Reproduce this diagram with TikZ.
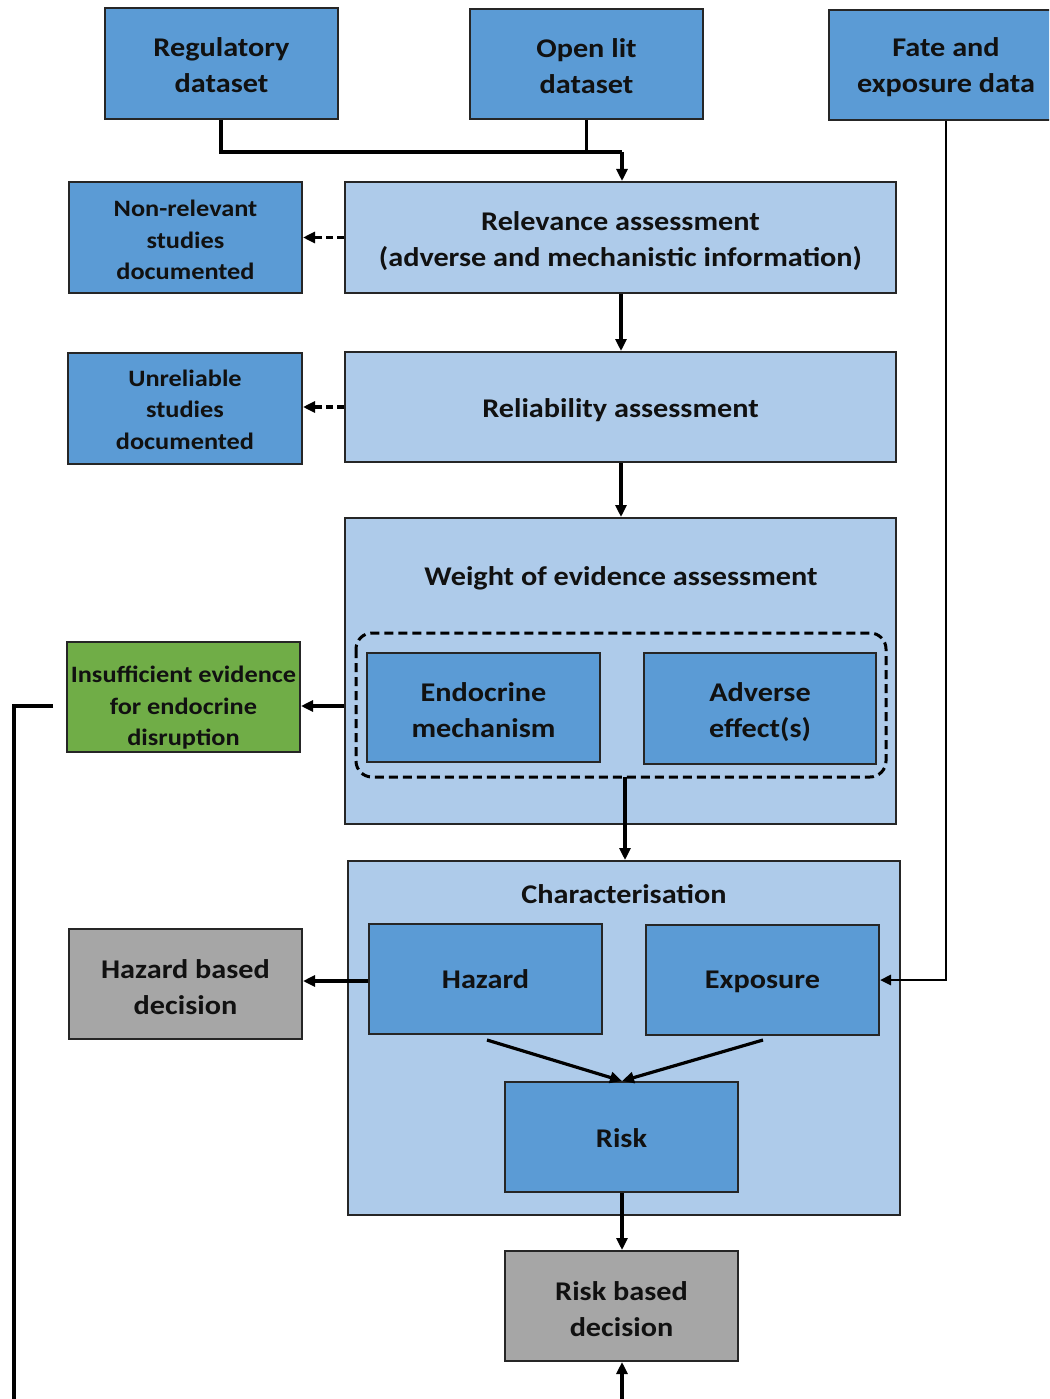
\documentclass[tikz,border=0pt]{standalone}
\usepackage{fontspec}
\setmainfont{Carlito}[FakeStretch=1.12]
\usetikzlibrary{arrows.meta}
\definecolor{dblue}{HTML}{5B9BD5}
\definecolor{lblue}{HTML}{AECBEA}
\definecolor{dgreen}{HTML}{70AD47}
\definecolor{dgray}{HTML}{A6A6A6}
\definecolor{txt}{HTML}{111111}
\tikzset{
  x=1pt, y=-1pt,
  bigtext/.style={font=\bfseries\fontsize{27}{36}\selectfont, text=txt, align=center, inner sep=0pt},
  smalltext/.style={font=\bfseries\fontsize{23.5}{31.5}\selectfont, text=txt, align=center, inner sep=0pt},
  box/.style={draw=black!85, line width=2pt, inner sep=0pt},
  dbox/.style={box, fill=dblue},
  lbox/.style={box, fill=lblue},
  gbox/.style={box, fill=dgreen},
  ybox/.style={box, fill=dgray},
  conn/.style={line width=3.2pt, -{Triangle[length=12pt,width=11pt]}},
  dconn/.style={conn, dash pattern=on 7pt off 4pt},
}
% #1 box style, #2 text style, #3 name, #4-#7 x1 y1 x2 y2, #8 text shift down, #9 text
\newcommand{\bx}[9]{%
  \node[#1, minimum width={#6-#4}, minimum height={#7-#5}] (#3) at ({(#4+#6)/2},{(#5+#7)/2}) {};
  \node[#2] (#3-t) at ([yshift=-#8pt]#3.center) {#9};}
\begin{document}
\begin{tikzpicture}
\clip (0,0) rectangle (1049,1399);
\fill[white] (0,0) rectangle (1049,1399);
% outer containers
\node[lbox, minimum width=551, minimum height=306] (woe) at (620.5,671) {};
\node[lbox, minimum width=552, minimum height=354] (char) at (624,1038) {};
\node[bigtext] (woet) at (621,578) {Weight of evidence assessment};
\node[bigtext] (chart) at (624,894) {Characterisation};
\draw[line width=3pt, dash pattern=on 9pt off 5pt, rounded corners=16pt] (356,633) rectangle (886,777);
\coordinate (dashb) at (625,777);
% boxes
\bx{dbox}{bigtext}{reg}{105}{8}{338}{119}{2}{Regulatory\\dataset}
\bx{dbox}{bigtext}{open}{470}{9}{703}{119}{2}{Open lit\\dataset}
\bx{dbox}{bigtext}{fate}{829}{10}{1063}{120}{2.5}{Fate and\\exposure data}
\bx{dbox}{smalltext}{nonrel}{69}{182}{302}{293}{2.5}{Non-relevant\\studies\\documented}
\bx{lbox}{bigtext}{relev}{345}{182}{896}{293}{3.5}{Relevance assessment\\(adverse and mechanistic information)}
\bx{dbox}{smalltext}{unrel}{68}{353}{302}{464}{1}{Unreliable\\studies\\documented}
\bx{lbox}{bigtext}{reliab}{345}{352}{896}{462}{3}{Reliability assessment}
\bx{dbox}{bigtext}{endo}{367}{653}{600}{762}{3}{Endocrine\\mechanism}
\bx{dbox}{bigtext}{adv}{644}{653}{876}{764}{4}{Adverse\\effect(s)}
\bx{gbox}{smalltext}{insuf}{67}{642}{300}{752}{11}{Insufficient evidence\\for endocrine\\disruption}
\bx{dbox}{bigtext}{haz}{369}{924}{602}{1034}{0.5}{Hazard}
\bx{dbox}{bigtext}{expo}{646}{925}{879}{1035}{2}{Exposure}
\bx{dbox}{bigtext}{risk}{505}{1082}{738}{1192}{1}{Risk}
\bx{ybox}{bigtext}{hazdec}{69}{929}{302}{1039}{3}{Hazard based\\decision}
\bx{ybox}{bigtext}{riskdec}{505}{1251}{738}{1361}{3.5}{Risk based\\decision}
% connectors
\coordinate (j1) at (221,152);
\coordinate (j2) at (622,152);
\draw[line width=3.6pt] (reg.south -| j1) |- (j2);
\draw[line width=3.6pt] (open.south) -- (open.south |- j2);
\draw[conn] (j2) -- (relev.north -| j2);
\draw[line width=2.6pt, -{Triangle[length=11pt,width=10pt]}] (fate.south -| 946,0) |- (expo.east);
\draw[dconn] (relev.west) -- (nonrel.east |- relev.west);
\draw[dconn] (reliab.west) -- (unrel.east |- reliab.west);
\draw[conn] (relev.south -| 621,0) -- (reliab.north -| 621,0);
\draw[conn] (reliab.south -| 621,0) -- (woe.north -| 621,0);
\draw[conn] (woe.west |- 0,706) -- (insuf.east |- 0,706);
\draw[conn] (dashb) -- (char.north -| dashb);
\draw[conn] (haz.west |- 0,981) -- (hazdec.east |- 0,981);
\coordinate (hz) at (487,1040);
\coordinate (ex) at (763,1040);
\draw[conn] (hz) -- (risk.north -| 622,0);
\draw[conn] (ex) -- (risk.north -| 622,0);
\draw[conn] (risk.south -| 622,0) -- (riskdec.north -| 622,0);
\coordinate (botin) at (622,1405);
\draw[conn] (botin) -- (riskdec.south -| botin);
\coordinate (lft) at (53,706);
\draw[line width=3.2pt] (lft) -| (14,1405);
\end{tikzpicture}
\end{document}
